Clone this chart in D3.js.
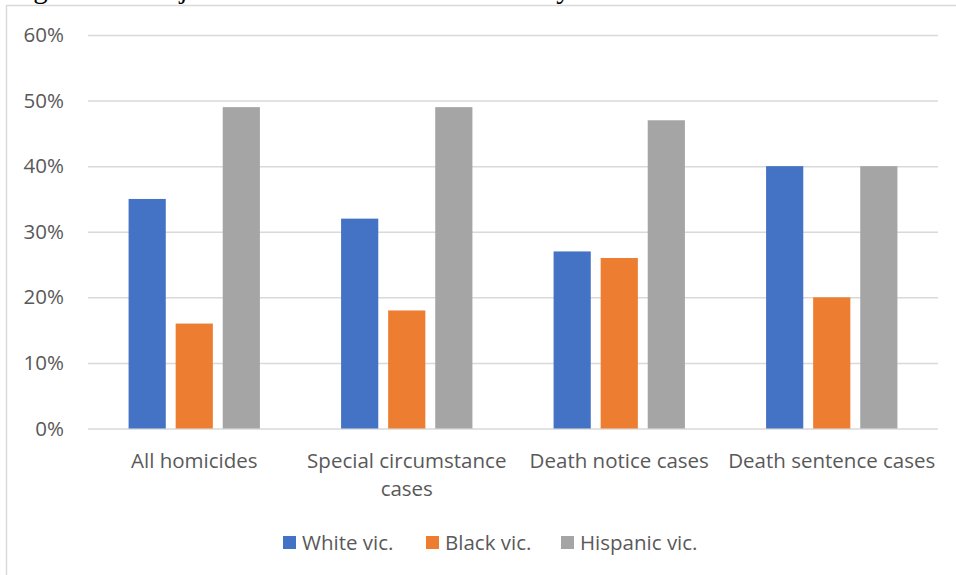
<!DOCTYPE html>
<html>
<head>
<meta charset="utf-8">
<script src="https://cdn.jsdelivr.net/npm/d3@7"></script>
<style>
  html, body { margin: 0; padding: 0; background: #fff; }
  svg { display: block; }
</style>
</head>
<body>
<svg id="chart" width="956" height="575"></svg>
<script>
// Victim race shares by case stage
const categories = [["All homicides"], ["Special circumstance", "cases"], ["Death notice cases"], ["Death sentence cases"]];
const seriesNames = ["White vic.", "Black vic.", "Hispanic vic."];
const whiteVic = [35, 32, 27, 40];
const blackVic = [16, 18, 26, 20];
const hispanicVic = [49, 49, 47, 40];
const yTicks = [0, 10, 20, 30, 40, 50, 60];
const colors = ["#4472C4", "#ED7D31", "#A5A5A5"];
const titleText = "Figure 11. Subject case rates of all homicides by victim race";

const series = [whiteVic, blackVic, hispanicVic];
const svg = d3.select("#chart");
const font = "'Open Sans', sans-serif";
const fontSize = 20.5;
const textColor = "#595959";

// Caption above the chart frame (runs off the top of the page)
svg.append("text")
  .attr("x", 9).attr("y", -2)
  .attr("font-family", "'Liberation Serif', serif")
  .attr("font-size", 29)
  .attr("fill", "#000")
  .text(titleText);

// Chart frame
svg.append("rect")
  .attr("x", 6.5).attr("y", 5.5)
  .attr("width", 1000).attr("height", 600)
  .attr("fill", "#fff")
  .attr("stroke", "#D9D9D9").attr("stroke-width", 1.5);

const plot = { left: 88, right: 938, top: 35, bottom: 428.5 };

const y = d3.scaleLinear().domain([0, 60]).range([plot.bottom, plot.top]);
const x0 = d3.scaleBand()
  .domain(d3.range(categories.length))
  .range([plot.left, plot.right])
  .paddingInner(0.382).paddingOuter(0.191);
const x1 = d3.scaleBand()
  .domain(d3.range(series.length))
  .range([0, x0.bandwidth()])
  .paddingInner(0.21).paddingOuter(0);

// Gridlines and y labels
const yAxis = d3.axisLeft(y)
  .tickValues(yTicks)
  .tickSize(-(plot.right - plot.left))
  .tickPadding(24)
  .tickFormat(d => d + "%");
const gy = svg.append("g")
  .attr("transform", `translate(${plot.left},0)`)
  .call(yAxis);
gy.select(".domain").remove();
gy.selectAll(".tick line").attr("stroke", "#D9D9D9").attr("stroke-width", 1.5);
gy.selectAll(".tick text")
  .attr("font-family", font).attr("font-size", fontSize)
  .attr("fill", textColor);

// Bars
categories.forEach((cat, ci) => {
  const g = svg.append("g").attr("transform", `translate(${x0(ci)},0)`);
  g.selectAll("rect")
    .data(series.map((s, si) => ({ si, v: s[ci] })))
    .join("rect")
    .attr("x", d => x1(d.si))
    .attr("y", d => y(d.v))
    .attr("width", x1.bandwidth())
    .attr("height", d => y(0) - y(d.v))
    .attr("fill", d => colors[d.si]);
});

// Category labels (tick groups sit at each band's centre)
const xAxis = d3.axisBottom(x0).tickSize(0).tickFormat("");
const gx = svg.append("g")
  .attr("transform", `translate(0,${plot.bottom})`)
  .call(xAxis);
gx.select(".domain").remove();
gx.selectAll(".tick").each(function(d) {
  const t = d3.select(this).append("text")
    .attr("text-anchor", "middle")
    .attr("font-family", font).attr("font-size", fontSize)
    .attr("fill", textColor);
  categories[d].forEach((line, li) => {
    t.append("tspan")
      .attr("x", 0)
      .attr("y", 39 + li * 28)
      .text(line);
  });
});

// Legend
const legendX = [283, 426, 561];
const lg = svg.append("g").attr("transform", "translate(0,543)");
seriesNames.forEach((name, i) => {
  lg.append("rect")
    .attr("x", legendX[i]).attr("y", -7)
    .attr("width", 13).attr("height", 13)
    .attr("fill", colors[i]);
  lg.append("text")
    .attr("x", legendX[i] + 19).attr("y", 7)
    .attr("font-family", font).attr("font-size", fontSize)
    .attr("fill", textColor)
    .text(name);
});
</script>
</body>
</html>
